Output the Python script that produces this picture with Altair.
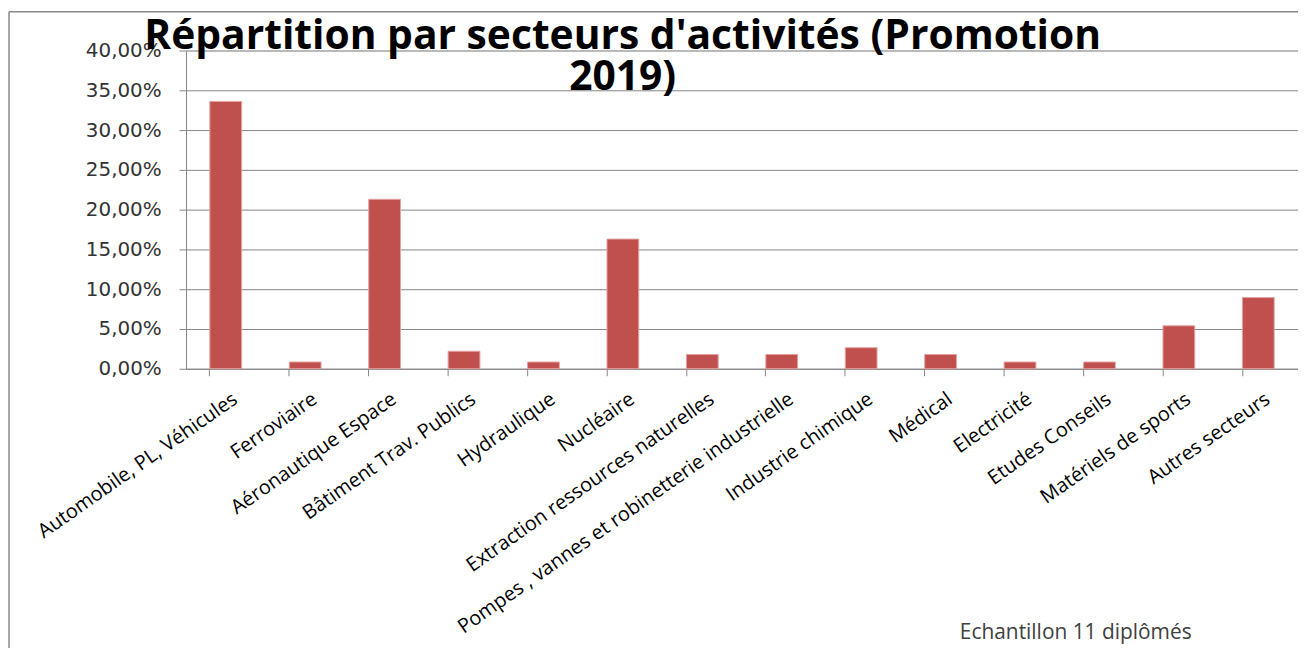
import altair as alt
import pandas as pd

categories = [
    "Automobile, PL, Véhicules",
    "Ferroviaire",
    "Aéronautique Espace",
    "Bâtiment Trav. Publics",
    "Hydraulique",
    "Nucléaire",
    "Extraction ressources naturelles",
    "Pompes , vannes et robinetterie industrielle",
    "Industrie chimique",
    "Médical",
    "Electricité",
    "Etudes Conseils",
    "Matériels de sports",
    "Autres secteurs",
]
values = [0.336, 0.0085, 0.213, 0.022, 0.0085, 0.163, 0.018, 0.018,
          0.0265, 0.018, 0.0085, 0.0085, 0.054, 0.0895]
y_ticks = [0.0, 0.05, 0.10, 0.15, 0.20, 0.25, 0.30, 0.35, 0.40]
title_lines = ["Répartition par secteurs d'activités (Promotion", "2019)"]
note = "Echantillon 11 diplômés"

df = pd.DataFrame({"secteur": categories, "part": values})
one = pd.DataFrame({"k": [0]})

W, H = 1118, 320
GRAY = "#868686"

bars = alt.Chart(df).mark_bar(
    color="#C0504D", stroke="#E3A3A1", strokeWidth=1
).encode(
    x=alt.X(
        "secteur:N", sort=categories,
        scale=alt.Scale(paddingInner=0.6, paddingOuter=0.3),
        axis=alt.Axis(
            title=note, bandPosition=0, labelAngle=-35, labelAlign="right",
            labelBaseline="top", labelOffset=4, labelPadding=13, tickSize=7,
            labelLimit=1000, labelOverlap=False, labelFont="Open Sans",
            labelFontSize=20, labelColor="#000000", domainColor=GRAY,
            tickColor=GRAY, grid=False,
            titleX=894, titleY=265, titleAlign="center", titleBaseline="middle",
            titleFont="Open Sans", titleFontSize=21, titleFontWeight="normal",
            titleColor="#404040",
        ),
    ),
    y=alt.Y(
        "part:Q", scale=alt.Scale(domain=[0, 0.4], nice=False),
        axis=alt.Axis(
            values=y_ticks, title=None,
            labelExpr="replace(format(datum.value, '.2%'), '.', ',')",
            tickSize=7, labelPadding=18, labelFont="DejaVu Sans",
            labelFontSize=20, labelColor="#333333", grid=True,
            gridColor=GRAY, domainColor=GRAY, tickColor=GRAY,
        ),
    ),
)

frame_left = alt.Chart(one).mark_rule(color="#8a8a8a", strokeWidth=1.5, clip=False).encode(
    x=alt.value(-178), y=alt.value(-39), y2=alt.value(H + 300)
)
frame_top = alt.Chart(one).mark_rule(color="#8a8a8a", strokeWidth=1.5, clip=False).encode(
    x=alt.value(-178), x2=alt.value(W + 20), y=alt.value(-39)
)

chart = alt.layer(bars, frame_left, frame_top).properties(
    width=W, height=H,
    autosize=alt.AutoSizeParams(type="none"),
    padding={"left": 179, "top": 41, "right": 0, "bottom": 279},
    title=alt.TitleParams(
        title_lines, font="Open Sans", fontSize=41, fontWeight="bold",
        color="#000000", anchor="middle", frame="group", baseline="alphabetic",
        offset=0, dx=-120, dy=120, lineHeight=41,
    ),
).configure_view(stroke=None).configure(background="white")

chart.save("out.html", embed_options={"renderer": "svg", "actions": False})
